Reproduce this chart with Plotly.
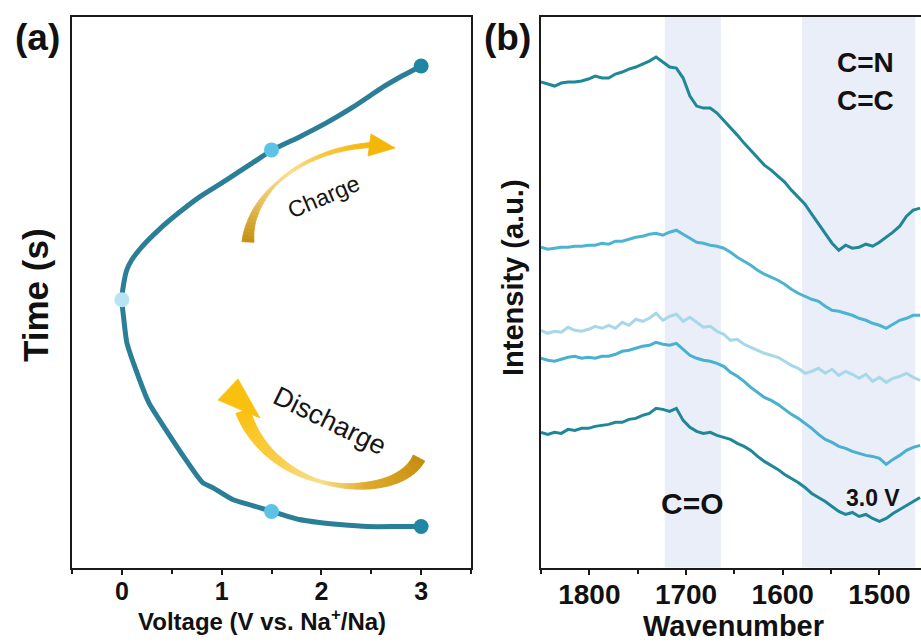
import math
import plotly.graph_objects as go

# ---------------- Panel (a) data ----------------
voltage = [3.00, 2.79, 2.46, 2.18, 1.98, 1.78, 1.51, 1.31, 1.11, 0.91, 0.81, 0.64, 0.44, 0.27,
           0.14, 0.05, 0.02, 0.00, 0.02, 0.05, 0.10, 0.20, 0.37, 0.57, 0.78, 1.05, 1.31, 1.51,
           1.78, 2.05, 2.32, 2.62, 2.79, 3.00]
time_s = [41, 41, 41, 43, 45, 48, 56, 62, 68, 80, 85, 108, 138, 165,
          198, 225, 248, 268, 285, 298, 308, 321, 338, 355, 371, 388, 405, 418,
          431, 445, 461, 481, 491, 502]
dot_v = [3.0, 1.5, 0.0, 1.5, 3.0]
dot_t = [41, 56, 268, 418, 502]
dot_colors = ["#1f86a3", "#5cc3e6", "#b8e3f3", "#5cc3e6", "#1f86a3"]

# ---------------- Panel (b) data ----------------
wavenumber = [1850, 1843, 1836, 1829, 1822, 1815, 1808, 1801, 1794, 1787, 1780, 1773, 1766, 1759,
              1752, 1745, 1738, 1731, 1724, 1717, 1710, 1703, 1696, 1689, 1682, 1675, 1668, 1661,
              1654, 1647, 1640, 1633, 1626, 1619, 1612, 1605, 1598, 1591, 1584, 1577, 1570, 1563,
              1556, 1549, 1542, 1535, 1528, 1521, 1514, 1507, 1500, 1493, 1486, 1479, 1472, 1465, 1458]
spec1 = [485, 483, 481, 484, 485, 485, 486, 488, 491, 489, 489, 493, 495, 498, 500, 503, 506, 510, 505,
         500, 499, 489, 471, 461, 459, 459, 454, 447, 440, 432, 424, 417, 409, 402, 397, 391, 385, 377,
         370, 363, 353, 343, 333, 324, 317, 322, 319, 320, 323, 321, 325, 330, 335, 341, 351, 357, 359]
spec2 = [320, 318, 319, 320, 320, 321, 321, 322, 322, 324, 323, 326, 326, 328, 330, 331, 333, 334, 332,
         335, 337, 333, 329, 325, 324, 322, 321, 319, 315, 310, 306, 302, 297, 293, 290, 287, 283, 278,
         274, 271, 268, 266, 261, 257, 256, 254, 252, 249, 247, 244, 242, 239, 243, 247, 249, 252, 252]
spec3 = [237, 234, 236, 235, 240, 237, 236, 238, 241, 239, 242, 239, 245, 242, 248, 246, 249, 254, 247,
         251, 253, 246, 250, 245, 240, 241, 236, 233, 227, 228, 223, 220, 217, 214, 212, 210, 206, 202,
         199, 194, 196, 199, 194, 198, 192, 196, 193, 189, 193, 186, 190, 185, 189, 191, 194, 190, 187]
spec4 = [209, 207, 206, 208, 210, 211, 209, 210, 209, 211, 211, 213, 216, 217, 219, 221, 222, 225, 223,
         222, 224, 218, 212, 209, 207, 206, 204, 201, 195, 191, 186, 180, 175, 170, 167, 163, 158, 153,
         149, 144, 139, 133, 128, 125, 121, 119, 116, 114, 112, 111, 109, 103, 108, 112, 117, 120, 122]
spec5 = [135, 133, 135, 134, 138, 137, 139, 139, 141, 142, 143, 145, 145, 148, 149, 152, 154, 159, 158,
         156, 159, 147, 140, 136, 134, 135, 132, 130, 128, 124, 121, 117, 111, 106, 102, 98, 93, 89,
         85, 80, 74, 70, 66, 61, 56, 53, 55, 51, 53, 49, 46, 49, 54, 58, 62, 66, 70]
spectra = [spec1, spec2, spec3, spec4, spec5]
spec_colors = ["#1e8798", "#4db3d3", "#a7d8e8", "#48b0d1", "#1e8798"]
bands = [(1722, 1664), (1580, 1463)]

W, H = 921, 643
FONT = "Liberation Sans, Arial, sans-serif"


def px(x):
    return x / W


def py(y):
    return 1 - y / H


def P(pt):
    return f"{px(pt[0]):.5f},{py(pt[1]):.5f}"


def cubic(p0, p1, p2, p3, t):
    u = 1 - t
    return (u**3 * p0[0] + 3 * u * u * t * p1[0] + 3 * u * t * t * p2[0] + t**3 * p3[0],
            u**3 * p0[1] + 3 * u * u * t * p1[1] + 3 * u * t * t * p2[1] + t**3 * p3[1])


def interp(keys, t):
    for (t0, v0), (t1, v1) in zip(keys[:-1], keys[1:]):
        if t0 <= t <= t1:
            f = (t - t0) / (t1 - t0) if t1 > t0 else 0
            if isinstance(v0, tuple):
                return tuple(a + (b - a) * f for a, b in zip(v0, v1))
            return v0 + (v1 - v0) * f
    return keys[-1][1]


def ribbon(segments, wkeys, ckeys, n=40):
    """Tapered, colour-graded ribbon along a chain of cubic Beziers (decoration only)."""
    pts = []
    for si, seg in enumerate(segments):
        for k in range(n + 1):
            if si > 0 and k == 0:
                continue
            pts.append(cubic(*seg, k / n))
    m = len(pts)
    left, right, ts = [], [], []
    for i, p in enumerate(pts):
        a = pts[max(i - 1, 0)]
        b = pts[min(i + 1, m - 1)]
        dx, dy = b[0] - a[0], b[1] - a[1]
        L = math.hypot(dx, dy) or 1
        nx, ny = -dy / L, dx / L
        t = i / (m - 1)
        w = interp(wkeys, t) / 2
        left.append((p[0] + nx * w, p[1] + ny * w))
        right.append((p[0] - nx * w, p[1] - ny * w))
        ts.append(t)
    out = []
    for i in range(m - 1):
        c = interp(ckeys, (ts[i] + ts[i + 1]) / 2)
        col = "rgb({:.0f},{:.0f},{:.0f})".format(*c)
        d = "M " + P(left[i]) + " L " + P(left[i + 1]) + " L " + P(right[i + 1]) + " L " + P(right[i]) + " Z"
        out.append(dict(type="path", xref="paper", yref="paper", path=d, fillcolor=col,
                        line=dict(width=0.8, color=col), layer="above"))
    return out


def triangle(a, b, c, col):
    d = "M " + P(a) + " L " + P(b) + " L " + P(c) + " Z"
    return dict(type="path", xref="paper", yref="paper", path=d, fillcolor=col,
                line=dict(width=0.8, color=col), layer="above")


fig = go.Figure()

# panel a curve
fig.add_trace(go.Scatter(x=voltage, y=time_s, mode="lines",
                         line=dict(color="#2b7e97", width=5, shape="spline", smoothing=0.6),
                         xaxis="x", yaxis="y", showlegend=False, hoverinfo="skip"))
fig.add_trace(go.Scatter(x=dot_v, y=dot_t, mode="markers", marker=dict(color=dot_colors, size=15),
                         xaxis="x", yaxis="y", showlegend=False, hoverinfo="skip"))

# panel b spectra
for s, c in zip(spectra, spec_colors):
    fig.add_trace(go.Scatter(x=wavenumber, y=s, mode="lines", line=dict(color=c, width=3),
                             xaxis="x2", yaxis="y2", showlegend=False, hoverinfo="skip"))

YDOM = [py(567.5), py(17)]
axis_line = dict(showline=True, linecolor="#1a1a1a", linewidth=2, showgrid=False, zeroline=False)

fig.update_layout(
    width=W, height=H, margin=dict(l=0, r=0, t=0, b=0),
    paper_bgcolor="white", plot_bgcolor="white",
    font=dict(family=FONT, color="#111"),
    xaxis=dict(domain=[px(72), px(471)], range=[-0.5, 3.5], tickvals=[0, 1, 2, 3],
               ticks="outside", ticklen=5, tickwidth=2, tickcolor="#1a1a1a", mirror=True,
               tickfont=dict(size=25, family=FONT, weight="bold"), ticklabelstandoff=-5,
               minor=dict(tickvals=[-0.5, 0.5, 1.5, 2.5, 3.5], ticks="outside", ticklen=4, tickwidth=2,
                          tickcolor="#1a1a1a"),
               anchor="y", **axis_line),
    yaxis=dict(domain=YDOM, range=[0, 551], showticklabels=False, ticks="", mirror=True, anchor="x", **axis_line),
    xaxis2=dict(domain=[px(541), 1.0], range=[1850, 1457], tickvals=[1800, 1700, 1600, 1500],
                ticks="outside", ticklen=5, tickwidth=2, tickcolor="#1a1a1a", mirror=True,
                tickfont=dict(size=28, family=FONT, weight="bold"), ticklabelstandoff=-4,
                minor=dict(tickvals=[1850, 1750, 1650, 1550], ticks="outside", ticklen=4, tickwidth=2,
                           tickcolor="#1a1a1a"),
                anchor="y2", **axis_line),
    yaxis2=dict(domain=YDOM, range=[0, 550], showticklabels=False, ticks="", mirror=False, anchor="x2",
                **axis_line),
)

shapes = []
for a, b in bands:
    shapes.append(dict(type="rect", xref="x2", yref="paper", x0=a, x1=b, y0=YDOM[0], y1=YDOM[1],
                       fillcolor="#e9eef9", line=dict(width=0), layer="below"))

# Charge arrow (decoration)
shapes += ribbon([[(248, 242), (249, 196), (298, 150), (371, 145)]],
                 [(0, 12), (0.15, 8), (0.45, 2.5), (0.75, 3.5), (1, 5)],
                 [(0, (196, 143, 12)), (0.35, (236, 200, 105)), (0.55, (250, 222, 140)),
                  (0.8, (248, 196, 55)), (1, (245, 182, 10))])
shapes.append(triangle((371, 134), (395, 148), (368, 156), "rgb(245,182,10)"))

# Discharge arrow (decoration)
shapes += ribbon([[(243, 411), (254, 446), (290, 481), (345, 486)],
                  [(345, 486), (385, 488), (410, 476), (419, 458)]],
                 [(0, 15), (0.25, 8), (0.42, 3), (0.6, 7), (0.85, 11), (1, 13)],
                 [(0, (250, 192, 15)), (0.25, (250, 205, 70)), (0.42, (248, 222, 140)),
                  (0.6, (222, 168, 40)), (1, (196, 140, 10))])
shapes.append(triangle((218, 400), (238, 379), (260, 418), "rgb(250,192,15)"))
fig.update_layout(shapes=shapes)


def ann(text, x, y, size, bold=True, angle=0, color="#111"):
    fig.add_annotation(text=text, x=px(x), y=py(y), xref="paper", yref="paper", showarrow=False,
                       xanchor="center", yanchor="middle", textangle=angle,
                       font=dict(size=size, family=FONT, color=color, weight="bold" if bold else "normal"))


ann("(a)", 37, 37, 37)
ann("(b)", 507, 37, 37)
ann("Time (s)", 35, 295, 35, angle=-90)
ann("Intensity (a.u.)", 513, 278, 29, angle=-90)
ann("Voltage (V vs. Na<sup>+</sup>/Na)", 262, 620, 24)
ann("Wavenumber", 733, 626, 29)
ann("Charge", 323, 197, 23, bold=False, angle=-23, color="#151515")
ann("Discharge", 330, 421, 27, bold=False, angle=26, color="#151515")
ann("C=N", 865, 63, 28)
ann("C=C", 865, 100, 28)
ann("C=O", 692, 503, 30)
ann("3.0 V", 873, 498, 23)

fig.write_html("out.html")
